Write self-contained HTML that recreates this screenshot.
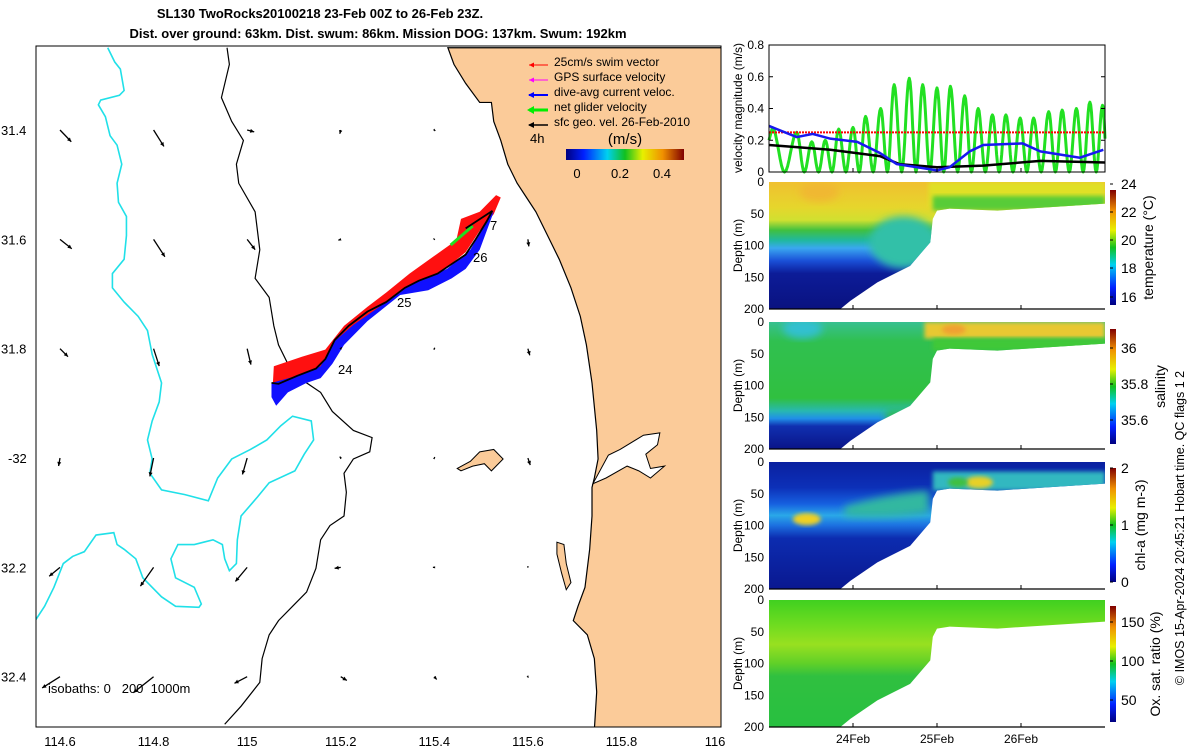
<!DOCTYPE html>
<html><head><meta charset="utf-8"><style>
body{margin:0;background:#fff;}
svg{display:block;font-family:"Liberation Sans",sans-serif;}
</style></head><body>
<svg id="fig" width="1200" height="750" viewBox="0 0 1200 750">
<defs>
<linearGradient id="jetH" x1="0" x2="1" y1="0" y2="0">
<stop offset="0" stop-color="#00007f"/><stop offset="0.15" stop-color="#0020ff"/><stop offset="0.35" stop-color="#00d0f0"/><stop offset="0.5" stop-color="#10c020"/><stop offset="0.65" stop-color="#e8f000"/><stop offset="0.82" stop-color="#f09000"/><stop offset="1" stop-color="#800000"/></linearGradient>
<linearGradient id="jetV" x1="0" x2="0" y1="1" y2="0">
<stop offset="0" stop-color="#00007f"/><stop offset="0.15" stop-color="#0020ff"/><stop offset="0.35" stop-color="#00d0f0"/><stop offset="0.5" stop-color="#10c020"/><stop offset="0.65" stop-color="#e8f000"/><stop offset="0.82" stop-color="#f09000"/><stop offset="1" stop-color="#800000"/></linearGradient>
<filter id="blur" x="-20%" y="-20%" width="140%" height="140%"><feGaussianBlur stdDeviation="4"/></filter>
<filter id="blur2" x="-20%" y="-20%" width="140%" height="140%"><feGaussianBlur stdDeviation="2"/></filter>
</defs>

<text x="320" y="18" text-anchor="middle" font-size="13" font-weight="bold">SL130 TwoRocks20100218 23-Feb 00Z to 26-Feb 23Z.</text>
<text x="378" y="38" text-anchor="middle" font-size="13" font-weight="bold">Dist. over ground: 63km. Dist. swum: 86km. Mission DOG: 137km. Swum: 192km</text>

<g id="map">
<clipPath id="mapclip"><rect x="36" y="46" width="685" height="681"/></clipPath>
<g clip-path="url(#mapclip)">
<g transform="translate(-2.23,2.59) scale(0.4679,0.4754)">
<path fill="#fbcb99" stroke="#000" stroke-width="1.2" vector-effect="non-scaling-stroke"
 d="M962,95 L975,130 L1000,170 L1030,210 L1055,210 L1060,250 L1075,290 L1090,340 L1110,380 L1130,410 L1150,440 L1180,500 L1200,540 L1225,600 L1245,660 L1258,720 L1270,800 L1280,900 L1283,960 L1275,1000 L1270,1020 L1270,1080 L1265,1150 L1255,1230 L1240,1270 L1230,1300 L1260,1330 L1275,1380 L1280,1450 L1275,1530 L1600,1530 L1600,95 Z"/>
<path fill="#fff" stroke="#000" stroke-width="1" vector-effect="non-scaling-stroke"
 d="M1272,1012 L1305,952 L1330,940 L1380,910 L1415,905 L1410,930 L1385,950 L1395,980 L1425,975 L1395,1000 L1370,985 L1345,975 L1300,1000 Z"/>
<path fill="#fbcb99" stroke="#000" stroke-width="1" vector-effect="non-scaling-stroke"
 d="M982,980 L1010,965 L1030,945 L1060,940 L1080,960 L1070,970 L1055,985 L1040,970 L1015,975 L990,985 Z"/>
<path fill="#fbcb99" stroke="#000" stroke-width="1" vector-effect="non-scaling-stroke"
 d="M1195,1135 L1210,1140 L1215,1180 L1225,1220 L1215,1235 L1205,1200 L1195,1160 Z"/>
<path fill="none" stroke="#000" stroke-width="1.2" vector-effect="non-scaling-stroke"
 d="M490,95 L495,130 L478,200 L500,250 L525,290 L510,340 L515,380 L550,440 L560,520 L550,580 L580,620 L590,680 L600,720 L620,760 L660,800 L690,820 L715,860 L760,900 L800,915 L795,945 L760,960 L740,990 L745,1030 L740,1080 L710,1100 L690,1130 L680,1190 L660,1240 L630,1270 L600,1300 L580,1330 L565,1380 L560,1430 L520,1480 L485,1518"/>
<path fill="none" stroke="#20e0e8" stroke-width="1.6" vector-effect="non-scaling-stroke"
 d="M235,95 L250,125 L262,140 L270,185 L260,195 L220,205 L215,215 L230,240 L240,280 L255,300 L265,340 L255,380 L258,420 L275,450 L275,490 L270,540 L245,570 L245,600 L270,630 L300,660 L320,690 L330,740 L350,800 L345,840 L330,880 L320,920 L330,960 L325,990 L350,1025 L400,1035 L450,1048 L470,1000 L500,960 L540,940 L575,920 L605,890 L630,870 L670,880 L675,920 L655,950 L635,985 L580,1010 L555,1040 L520,1080 L512,1130 L510,1180 L495,1195 L485,1170 L480,1140 L460,1130 L440,1135 L420,1140 L385,1140 L370,1170 L380,1210 L420,1230 L435,1265 L430,1272 L380,1270 L350,1250 L310,1210 L295,1170 L270,1150 L255,1140 L248,1115 L210,1120 L185,1155 L160,1165 L140,1180 L120,1230 L100,1270 L80,1300 L78,1330"/>
<path fill="#ff1010"
 d="M588,800 L590,765 L650,745 L700,730 L740,680 L790,640 L830,610 L880,570 L930,535 L980,500 L990,455 L1030,440 L1050,420 L1065,405 L1075,410 L1060,445 L1030,480 L1000,525 L950,565 L880,598 L820,640 L760,690 L720,730 L690,770 L640,788 Z"/>
<path fill="#1010ff"
 d="M585,800 L640,785 L690,765 L720,712 L760,678 L830,630 L880,595 L960,560 L1010,520 L1050,450 L1060,440 L1045,480 L1030,520 L1000,560 L970,580 L920,605 L860,615 L790,670 L740,720 L715,760 L690,790 L660,800 L620,820 L595,848 L585,830 Z"/>
<path fill="none" stroke="#20e020" stroke-width="3" vector-effect="non-scaling-stroke" d="M968,510 L1015,470"/>
<path fill="none" stroke="#000" stroke-width="1.8" vector-effect="non-scaling-stroke"
 d="M585,800 L600,802 L640,785 L680,770 L700,750 L720,710 L750,680 L790,650 L830,630 L870,600 L900,585 L940,570 L970,550 L1000,530 L1020,500 L1045,460 L1057,438 L1000,475"/>
</g>
<g id="vectors"></g>
</g>
<text x="338" y="374" font-size="13">24</text>
<text x="397" y="307" font-size="13">25</text>
<text x="473" y="262" font-size="13">26</text>
<text x="490" y="230" font-size="13">7</text>
<rect x="36" y="46" width="685" height="681" fill="none" stroke="#000" stroke-width="1"/>
<text x="48" y="693" font-size="13">isobaths: 0 &#160; 200 &#160;1000m</text>
<g font-size="12">
<line x1="529" y1="65" x2="548" y2="65" stroke="#f00" stroke-width="1"/><path d="M529,65 l5,-2.5 v5z" fill="#f00"/>
<text x="554" y="66">25cm/s swim vector</text>
<line x1="529" y1="80" x2="548" y2="80" stroke="#f0f" stroke-width="1"/><path d="M529,80 l5,-2.5 v5z" fill="#f0f"/>
<text x="554" y="81">GPS surface velocity</text>
<line x1="529" y1="95" x2="548" y2="95" stroke="#00f" stroke-width="2"/><path d="M528,95 l6,-3 v6z" fill="#00f"/>
<text x="554" y="96">dive-avg current veloc.</text>
<line x1="529" y1="110" x2="548" y2="110" stroke="#0e0" stroke-width="3"/><path d="M527,110 l7,-4 v8z" fill="#0e0"/>
<text x="554" y="111">net glider velocity</text>
<line x1="529" y1="125" x2="548" y2="125" stroke="#000" stroke-width="1.5"/><path d="M528,125 l6,-3 v6z" fill="#000"/>
<text x="554" y="126">sfc geo. vel. 26-Feb-2010</text>
<text x="530" y="143" font-size="13">4h</text>
<text x="625" y="144" font-size="15" text-anchor="middle">(m/s)</text>
<rect x="566" y="149" width="118" height="11" fill="url(#jetH)"/>
<text x="577" y="178" font-size="13" text-anchor="middle">0</text>
<text x="620" y="178" font-size="13" text-anchor="middle">0.2</text>
<text x="662" y="178" font-size="13" text-anchor="middle">0.4</text>
</g>
<g id="mapticks" font-size="13"></g>
</g>

<g id="right"></g>
<text transform="translate(1184,528) rotate(-90)" text-anchor="middle" font-size="12.5">© IMOS 15-Apr-2024 20:45:21 Hobart time. QC flags 1  2</text>
</svg>

<script>
const vecLons = [114.6, 114.8, 115.0, 115.2, 115.4, 115.6];
const vecLats = [31.4, 31.6, 31.8, 32.0, 32.2, 32.4];
const vecU = [
 [24,22,15,-2,2,0],
 [25,24,17,-5,1,2],
 [17,12,8,2,1,4],
 [-3,-8,-10,-2,1,5],
 [-23,-28,-25,-13,-3,0],
 [-38,-43,-27,13,5,1]];
const vecV = [
 [25,35,4,8,2,0],
 [20,37,22,2,1,15],
 [17,37,34,-3,-2,14],
 [17,39,35,-3,-2,15],
 [19,40,30,2,0,1],
 [24,34,14,8,6,2]];
const greenPeakT = [0.04,0.33,0.51,0.67,0.83,1.0,1.15,1.33,1.49,1.67,1.83,2.0,2.16,2.33,2.49,2.66,2.82,2.99,3.15,3.33,3.49,3.66,3.82,3.97];
const greenPeakV = [0.28,0.25,0.19,0.20,0.27,0.28,0.35,0.40,0.55,0.59,0.55,0.53,0.54,0.48,0.40,0.36,0.36,0.34,0.34,0.38,0.39,0.40,0.44,0.42];
const blueT = [0,0.33,0.52,0.73,1.05,1.32,1.52,2.0,2.15,2.39,2.55,3.02,3.23,3.7,3.98];
const blueV = [0.29,0.22,0.24,0.21,0.19,0.12,0.05,0.01,0.03,0.13,0.17,0.18,0.13,0.09,0.14];
const blackT = [0,0.73,1.32,1.55,2.0,2.55,3.23,4.0];
const blackV = [0.17,0.14,0.10,0.05,0.03,0.04,0.07,0.06];
const swimSpeed = 0.25;
const dayTicks = [1,2,3];
const dayLabels = ['24Feb','25Feb','26Feb'];
const bndT = [0,4.0,4.0,2.72,2.15,2.0,1.95,1.92,1.68,1.29,0.97,0.85,0];
const bndD = [0,0,34,45,42,45,58,95,132,158,187,200,200];

const NS='http://www.w3.org/2000/svg';
function el(tag, attrs, parent){const e=document.createElementNS(NS,tag);for(const k in attrs)e.setAttribute(k,attrs[k]);parent.appendChild(e);return e;}
function tx(x,y,s,anchor,size,parent){const t=el('text',{x:x,y:y,'text-anchor':anchor||'start','font-size':size||12},parent);t.textContent=s;return t;}

const lonX = lon => 60 + (lon-114.6)*467.9;
const latY = lat => 130 + (lat-31.4)*546.7;
const mt = document.getElementById('mapticks');
const lonTicks=[114.6,114.8,115,115.2,115.4,115.6,115.8,116];
const lonLabels=['114.6','114.8','115','115.2','115.4','115.6','115.8','116'];
lonTicks.forEach((l,i)=>{const t=tx(lonX(l),746,lonLabels[i],'middle',13,mt);

});
const latTicks=[31.4,31.6,31.8,32.0,32.2,32.4];
const latLabels=['31.4','31.6','31.8','-32','32.2','32.4'];
latTicks.forEach((l,i)=>{const t=tx(i==3?8:1,latY(l)+5,latLabels[i],'start',13,mt);

});

const vg=document.getElementById('vectors');
vecLats.forEach((la,i)=>vecLons.forEach((lo,j)=>{
 const x0=lonX(lo), y0=latY(la), dx=vecU[i][j]*0.47, dy=vecV[i][j]*0.47;
 const L=Math.hypot(dx,dy)||1, ux=dx/L, uy=dy/L, h=Math.min(4,L*0.5+1.5);
 const g=el('g',{},vg);
 
 
 el('line',{x1:x0,y1:y0,x2:x0+dx,y2:y0+dy,stroke:'#000','stroke-width':1.3},g);
 const ex=x0+dx, ey=y0+dy;
 el('path',{d:`M${ex},${ey} L${ex-ux*h-uy*h*0.5},${ey-uy*h+ux*h*0.5} L${ex-ux*h+uy*h*0.5},${ey-uy*h-ux*h*0.5} Z`,fill:'#000'},g);
}));

const R=document.getElementById('right');
const X0=769, X1=1105;
const xT=t=>X0+t*84;
const vTop=45, vBot=172;
const yV=v=>vBot - v/0.8*(vBot-vTop);
const vp=el('g',{},R);


let d=`M${xT(0)},${yV(0.2)}`;
let prevT=0, prevV=0.2;
for(let i=0;i<greenPeakT.length;i++){
 const pt=greenPeakT[i];
 if(i>0){
   const trough=(greenPeakT[i-1]+pt)/2;
   for(let k=1;k<=8;k++){const s=k/8;const t=prevT+(trough-prevT)*s;const v=prevV*(1+Math.cos(Math.PI*s))/2;d+=` L${xT(t).toFixed(1)},${yV(v).toFixed(1)}`;}
   for(let k=1;k<=8;k++){const s=k/8;const t=trough+(pt-trough)*s;const v=greenPeakV[i]*(1-Math.cos(Math.PI*s))/2;d+=` L${xT(t).toFixed(1)},${yV(v).toFixed(1)}`;}
 } else { d+=` L${xT(pt)},${yV(greenPeakV[0])}`; }
 prevT=pt; prevV=greenPeakV[i];
}
for(let k=1;k<=8;k++){const s=k/8;const t=prevT+(4.0-prevT)*s;const v=prevV*(1+Math.cos(Math.PI*s*0.5))/2;d+=` L${xT(t).toFixed(1)},${yV(v).toFixed(1)}`;}
const gl=el('path',{d:d,fill:'none',stroke:'#22e022','stroke-width':3,'stroke-linejoin':'round'},vp);


const rl=el('line',{x1:xT(0),x2:X1,y1:yV(swimSpeed),y2:yV(swimSpeed),stroke:'#f00','stroke-width':2,'stroke-dasharray':'2 1'},vp);


const bk=el('path',{d:'M'+blackT.map((t,i)=>xT(t)+','+yV(blackV[i])).join(' L'),fill:'none',stroke:'#000','stroke-width':2.5},vp);


const bl=el('path',{d:'M'+blueT.map((t,i)=>xT(t)+','+yV(blueV[i])).join(' L'),fill:'none',stroke:'#1818f0','stroke-width':2.5},vp);


el('rect',{x:X0,y:vTop,width:X1-X0,height:vBot-vTop,fill:'none',stroke:'#000','stroke-width':1},vp);
['0','0.2','0.4','0.6','0.8'].forEach((s,i)=>{const v=i*0.2;tx(764,yV(v)+4,s,'end',12,vp);
 el('line',{x1:X0,x2:X0+4,y1:yV(v),y2:yV(v),stroke:'#000'},vp);el('line',{x1:X1,x2:X1-4,y1:yV(v),y2:yV(v),stroke:'#000'},vp);});
dayTicks.forEach(t=>{el('line',{x1:xT(t),x2:xT(t),y1:vBot,y2:vBot-4,stroke:'#000'},vp);});
const vl=tx(0,0,'velocity magnitude (m/s)','middle',12,vp);vl.setAttribute('transform','translate(742,108) rotate(-90)');

const tops=[182,322,462,600];
const PH=127;
const panels=[
 {name:'temperature',label:'temperature (°C)',ticks:['16','18','20','22','24'],tickY:[297,268,240,212,184],cb:[190,305],lx:1153},
 {name:'salinity',label:'salinity',ticks:['35.6','35.8','36'],tickY:[420,384,348],cb:[329,444],lx:1165},
 {name:'chlorophyll',label:'chl-a (mg m-3)',ticks:['0','1','2'],tickY:[582,525,468],cb:[468,582],lx:1145},
 {name:'oxygen',label:'Ox. sat. ratio (%)',ticks:['50','100','150'],tickY:[700,661,622],cb:[606,722],lx:1160}
];
const stopsList=[
  [[0,'#f0c030'],[0.2,'#e6d62c'],[0.3,'#d0e030'],[0.38,'#40c040'],[0.46,'#20b8a0'],[0.52,'#3aa8f0'],[0.62,'#1a50d8'],[0.72,'#0c1c98'],[1,'#0a1280']],
  [[0,'#38c090'],[0.15,'#30c050'],[0.6,'#30c040'],[0.7,'#28b8b0'],[0.76,'#2090e8'],[0.82,'#1030b0'],[1,'#0a1488']],
  [[0,'#0a20a0'],[0.2,'#0c30b8'],[0.33,'#1660e0'],[0.42,'#2aa8e8'],[0.5,'#1c70e0'],[0.6,'#0c2cb0'],[1,'#0a1890']],
  [[0,'#40d020'],[0.2,'#70dc20'],[0.35,'#98e020'],[0.5,'#60d028'],[0.6,'#30c040'],[1,'#28c040']]];

panels.forEach((P,p)=>{
 const top=tops[p]; const yD=dd=>top+dd*PH/200;
 const g=el('g',{},R);
 
 
 const cid='clip'+p;
 const cp=el('clipPath',{id:cid},g);
 el('path',{d:'M'+bndT.map((t,i)=>xT(t)+','+yD(bndD[i])).join(' L')+' Z'},cp);
 const gid='grad'+p;
 const lg=el('linearGradient',{id:gid,x1:0,x2:0,y1:top,y2:top+PH,gradientUnits:'userSpaceOnUse'},g);
 stopsList[p].forEach(s=>el('stop',{offset:s[0],'stop-color':s[1]},lg));
 const c=el('g',{'clip-path':`url(#${cid})`},g);
 el('rect',{x:X0,y:top,width:X1-X0,height:PH,fill:`url(#${gid})`},c);
 if(p==0){
  el('ellipse',{cx:xT(1.6),cy:yD(95),rx:34,ry:26,fill:'#30c0a8',filter:'url(#blur)'},c);
  el('rect',{x:xT(1.9),y:top,width:X1-xT(1.9),height:PH*0.2,fill:'#e0e028',filter:'url(#blur2)'},c);
  el('rect',{x:xT(1.95),y:yD(22),width:X1-xT(1.95),height:yD(45)-yD(22),fill:'#58cc38',filter:'url(#blur2)'},c);
  el('ellipse',{cx:xT(0.6),cy:yD(15),rx:20,ry:10,fill:'#f0b830',filter:'url(#blur)'},c);
 } else if(p==1){
  el('ellipse',{cx:xT(0.4),cy:yD(10),rx:20,ry:10,fill:'#30c0d0',filter:'url(#blur)'},c);
  el('rect',{x:xT(1.4),y:yD(140),width:60,height:60,fill:'#30c040',filter:'url(#blur)'},c);
  el('rect',{x:xT(1.85),y:top,width:X1-xT(1.85),height:yD(26)-top,fill:'#e8c830',filter:'url(#blur2)'},c);
  el('rect',{x:xT(1.95),y:yD(26),width:X1-xT(1.95),height:yD(45)-yD(26),fill:'#40c838',filter:'url(#blur2)'},c);
  el('ellipse',{cx:xT(2.2),cy:yD(12),rx:12,ry:5,fill:'#f0a030',filter:'url(#blur2)'},c);
 } else if(p==2){
  el('path',{d:`M${xT(0.9)},${yD(70)} Q${xT(1.4)},${yD(50)} ${xT(1.9)},${yD(45)} L${xT(1.9)},${yD(80)} Q${xT(1.4)},${yD(90)} ${xT(0.9)},${yD(85)} Z`,fill:'#30b8a0',filter:'url(#blur)'},c);
  el('ellipse',{cx:xT(0.45),cy:yD(90),rx:14,ry:6,fill:'#f0d020',filter:'url(#blur2)'},c);
  el('rect',{x:xT(1.95),y:yD(15),width:X1-xT(1.95),height:yD(45)-yD(15),fill:'#30b8c0',filter:'url(#blur2)'},c);
  el('ellipse',{cx:xT(2.5),cy:yD(32),rx:14,ry:6,fill:'#e8d028',filter:'url(#blur2)'},c);
  el('ellipse',{cx:xT(2.25),cy:yD(32),rx:10,ry:5,fill:'#40c040',filter:'url(#blur2)'},c);
 }
 el('line',{x1:X0,x2:X1,y1:top+PH,y2:top+PH,stroke:'#000','stroke-width':1.2},g);
 dayTicks.forEach(t=>{el('line',{x1:xT(t),x2:xT(t),y1:top+PH,y2:top+PH-4,stroke:'#000'},g);});
 ['0','50','100','150','200'].forEach((s,i)=>tx(764,yD(i*50)+4,s,'end',12,g));
 const dl=tx(0,0,'Depth (m)','middle',12,g);dl.setAttribute('transform',`translate(742,${top+PH/2}) rotate(-90)`);
 const cb=el('rect',{x:1110,y:P.cb[0],width:6,height:P.cb[1]-P.cb[0],fill:'url(#jetV)'},g);
 
 
 P.ticks.forEach((s,i)=>{tx(1121,P.tickY[i]+5,s,'start',14,g);el('line',{x1:1110,x2:1113,y1:P.tickY[i],y2:P.tickY[i],stroke:'#000'},g);});
 const cl=tx(0,0,P.label,'middle',14,g);cl.setAttribute('transform',`translate(${P.lx},${(P.cb[0]+P.cb[1])/2}) rotate(-90)`);
});
dayLabels.forEach((s,i)=>{const t=tx(xT(dayTicks[i]),743,s,'middle',12,R);
 
 });
</script>
</body></html>
